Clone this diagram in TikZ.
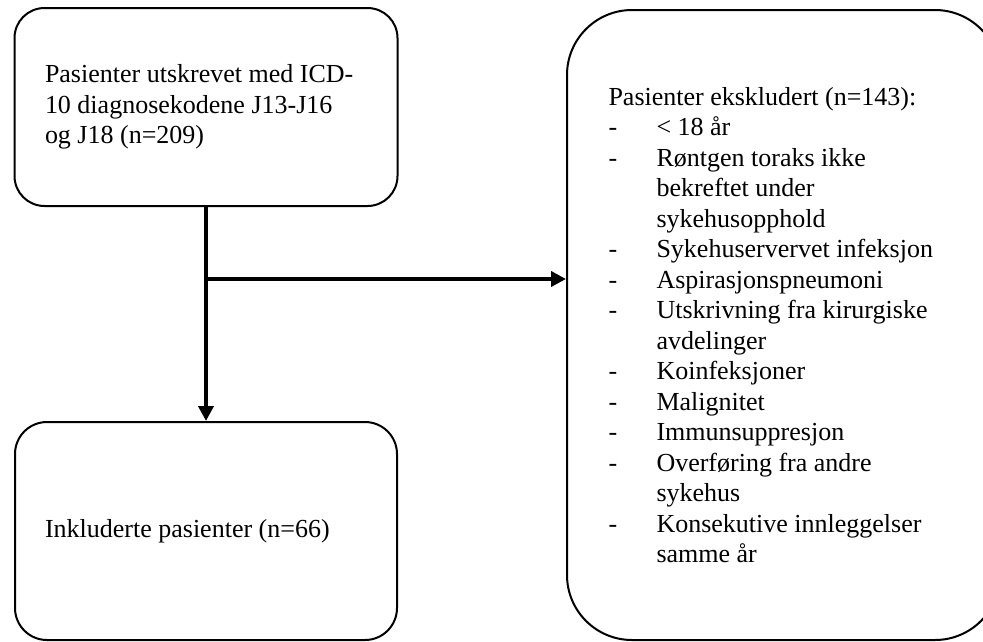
\documentclass[tikz,border=0pt]{standalone}
\usepackage{fontspec}
\setmainfont{Liberation Serif}
\usetikzlibrary{arrows.meta}
\newcommand{\dashitem}{\makebox[48pt][l]{-}}
\newcommand{\hangitem}{\hspace*{48pt}}

\begin{document}
\begin{tikzpicture}[x=1pt,y=-1pt]
                \useasboundingbox (0,0) rectangle (983,641);
                \clip (0,0) rectangle (983,641);

                \begin{scope}[every node/.style={rectangle,draw,line width=2pt,align=flush left,inner sep=0pt,
                            font=\fontsize{26}{30.5}\selectfont}]
                    \node[rounded corners=30pt,minimum width=383pt,minimum height=198pt,text width=322pt] (A) at (206,107)
                        {Pasienter utskrevet med ICD-\\10 diagnosekodene J13-J16\\og J18 (n=209)};
                    \node[rounded corners=32pt,minimum width=382pt,minimum height=218pt,text width=322pt] (B) at (206,531)
                        {Inkluderte pasienter (n=66)};
                    \node[rounded corners=65pt,minimum width=433pt,minimum height=630pt,text width=350pt] (C) at (783.5,325)
                        {Pasienter ekskludert (n=143):\\
                         \dashitem < 18 år\\
                         \dashitem Røntgen toraks ikke\\
                         \hangitem bekreftet under\\
                         \hangitem sykehusopphold\\
                         \dashitem Sykehuservervet infeksjon\\
                         \dashitem Aspirasjonspneumoni\\
                         \dashitem Utskrivning fra kirurgiske\\
                         \hangitem avdelinger\\
                         \dashitem Koinfeksjoner\\
                         \dashitem Malignitet\\
                         \dashitem Immunsuppresjon\\
                         \dashitem Overføring fra andre\\
                         \hangitem sykehus\\
                         \dashitem Konsekutive innleggelser\\
                         \hangitem samme år};
                \end{scope}

                \coordinate (split) at (206,279);

                \begin{scope}[every edge/.style={draw,line width=4pt,-{Triangle[length=15pt,width=15pt]}}]
                    \path (A.south) edge (B.north);
                    \path (split) edge (split -| C.west);
                \end{scope}
            \end{tikzpicture}
\end{document}
